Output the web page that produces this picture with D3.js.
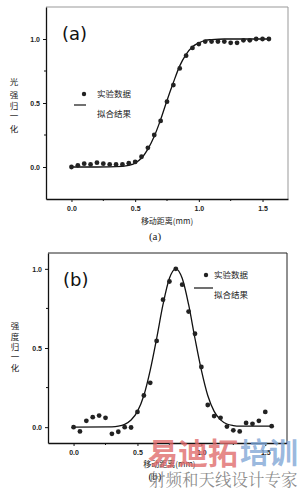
<!DOCTYPE html>
<html><head><meta charset="utf-8">
<script src="https://cdn.jsdelivr.net/npm/d3@7"></script>
<style>body{margin:0;background:#fff}svg{display:block}</style>
</head><body>
<script>
// Panel (a) data
const xA = [0,0.05,0.10,0.15,0.20,0.25,0.30,0.35,0.40,0.45,0.50,0.55,0.60,0.65,0.70,0.75,0.80,0.85,0.90,0.95,1.00,1.05,1.10,1.15,1.20,1.25,1.30,1.35,1.40,1.45,1.50,1.55];
const yA = [0.0,0.013,0.026,0.02,0.034,0.026,0.02,0.02,0.02,0.03,0.04,0.08,0.15,0.25,0.36,0.51,0.64,0.77,0.87,0.93,0.96,0.98,0.98,0.98,0.98,0.97,0.97,0.99,0.99,1.0,1.0,1.0];
const fitAx = [0,0.2,0.4,0.45,0.5,0.55,0.6,0.65,0.7,0.75,0.8,0.85,0.9,0.95,1.0,1.05,1.1,1.2,1.55];
const fitAy = [0.0,0.0,0.005,0.012,0.03,0.07,0.14,0.24,0.37,0.52,0.66,0.79,0.88,0.94,0.97,0.99,0.995,1.0,1.0];
// Panel (b) data
const xB = xA;
const yB = [0.0,-0.027,0.04,0.063,0.073,0.059,-0.042,-0.029,0.0,-0.002,0.096,0.20,0.28,0.545,0.805,0.92,1.0,0.90,0.73,0.59,0.38,0.14,0.07,0.059,0.004,-0.02,-0.027,0.027,0.021,0.04,0.096,0.006];
const fitBx = [0,0.3,0.35,0.4,0.45,0.5,0.55,0.6,0.65,0.7,0.75,0.8,0.85,0.9,0.95,1.0,1.05,1.1,1.15,1.2,1.25,1.3,1.55];
const fitBy = [0.0,0.002,0.006,0.018,0.045,0.10,0.20,0.36,0.56,0.775,0.94,1.0,0.94,0.775,0.56,0.36,0.20,0.10,0.046,0.02,0.01,0.006,0.006];
const xTicks = [0.0,0.5,1.0,1.5];
const yTicks = [0.0,0.5,1.0];
const xTitle = "移动距离(mm)";
const yTitleA = ["光","强","归","一","化"];
const yTitleB = ["强","度","归","一","化"];
const legendLabels = ["实验数据","拟合结果"];

const svg = d3.select("body").append("svg").attr("width",303).attr("height",490);
svg.append("rect").attr("width",303).attr("height",490).attr("fill","#fff");

const tickFont = "Liberation Sans, Arial, sans-serif";
const cjk = "Noto Sans CJK SC, sans-serif";

function panel(o){
  const g = svg.append("g");
  const x = d3.scaleLinear().domain(o.xd).range([o.l,o.r]);
  const y = d3.scaleLinear().domain(o.yd).range([o.b,o.t]);
  g.append("line").attr("x1",o.l).attr("x2",o.r).attr("y1",o.t).attr("y2",o.t).attr("stroke",o.frame).attr("stroke-width",1);
  g.append("line").attr("x1",o.r).attr("x2",o.r).attr("y1",o.t).attr("y2",o.b).attr("stroke",o.frame).attr("stroke-width",1);
  const ax = g.append("g").attr("transform",`translate(0,${o.b})`)
    .call(d3.axisBottom(x).tickValues(xTicks).tickFormat(d3.format(".1f")).tickSize(3).tickSizeOuter(0));
  const ay = g.append("g").attr("transform",`translate(${o.l},0)`)
    .call(d3.axisLeft(y).tickValues(yTicks).tickFormat(d3.format(".1f")).tickSize(3).tickSizeOuter(0));
  [ax,ay].forEach(a=>{
    a.select(".domain").attr("stroke","#111").attr("stroke-width",1.3);
    a.selectAll(".tick line").attr("stroke","#111");
    a.selectAll("text").attr("font-family",tickFont).attr("font-size",7).attr("fill","#222").attr("font-weight","bold");
  });
  ax.selectAll("text").attr("dy","0.9em");
  g.selectAll(".mx").data(o.minorX).enter().append("line")
    .attr("x1",d=>x(d)).attr("x2",d=>x(d)).attr("y1",o.b).attr("y2",o.b+2).attr("stroke","#111");
  g.selectAll(".my").data(o.minorY).enter().append("line")
    .attr("x1",o.l).attr("x2",o.l-2).attr("y1",d=>y(d)).attr("y2",d=>y(d)).attr("stroke","#111");
  const line = d3.line().x((d,i)=>x(o.fx[i])).y((d,i)=>y(o.fy[i])).curve(d3.curveMonotoneX);
  g.append("path").datum(o.fx).attr("d",line).attr("fill","none").attr("stroke","#111").attr("stroke-width",1.3);
  g.selectAll(".pt").data(o.px).enter().append("circle")
    .attr("cx",d=>x(d)).attr("cy",(d,i)=>y(o.py[i])).attr("r",2.4).attr("fill","#222");
  g.append("text").attr("x",o.lab[0]).attr("y",o.lab[1]).text(o.name)
    .attr("font-family","DejaVu Sans, sans-serif").attr("font-size",18).attr("fill","#111");
  g.append("circle").attr("cx",o.leg[0]).attr("cy",o.leg[1]).attr("r",2.2).attr("fill","#222");
  g.append("text").attr("x",o.leg[2]).attr("y",o.leg[1]+3).text(legendLabels[0])
    .attr("font-family",cjk).attr("font-size",8.5).attr("fill","#222");
  g.append("line").attr("x1",o.leg[3]).attr("x2",o.leg[4]).attr("y1",o.leg[5]).attr("y2",o.leg[5]).attr("stroke","#111").attr("stroke-width",1.2);
  g.append("text").attr("x",o.leg[2]).attr("y",o.leg[6]+3).text(legendLabels[1])
    .attr("font-family",cjk).attr("font-size",8.5).attr("fill","#222");
  g.selectAll(".yt").data(o.ytitle).enter().append("text")
    .attr("x",o.ytx).attr("y",(d,i)=>o.yty[i]).attr("text-anchor","middle").text(d=>d)
    .attr("font-family",cjk).attr("font-size",8.5).attr("fill","#222");
  g.append("text").attr("x",(x(0)+x(1.5))/2).attr("y",o.xt).attr("text-anchor","middle").text(xTitle)
    .attr("font-family",cjk).attr("font-size",8).attr("fill","#222");
  g.append("text").attr("x",155).attr("y",o.cap).attr("text-anchor","middle").text(o.name)
    .attr("font-family","Liberation Serif, serif").attr("font-size",11).attr("fill","#222");
}

panel({name:"(a)", xd:[-0.2,1.7], yd:[-0.25,1.25], l:46, r:288, t:7, b:199, frame:"#999",
  fx:fitAx, fy:fitAy, px:xA, py:yA,
  minorX:[0.25,0.75,1.25], minorY:[0.25,0.75],
  lab:[62,40], leg:[84,94,97,74,86,105,114],
  ytitle:yTitleA, ytx:14, yty:[85,98,109,119,132], xt:224, cap:240});

panel({name:"(b)", xd:[-0.2,1.67], yd:[-0.1,1.1], l:48, r:287, t:253, b:443, frame:"#222",
  fx:fitBx, fy:fitBy, px:xB, py:yB,
  minorX:[0.25,0.75,1.25], minorY:[0.25,0.75],
  lab:[63,286], leg:[206,275,214,194,213,288,295],
  ytitle:yTitleB, ytx:15, yty:[329,340,350,360,371], xt:467, cap:480});

// watermark
svg.append("text").attr("x",148).attr("y",464).text("易迪拓")
  .attr("font-family",cjk).attr("font-weight","bold").attr("font-size",30).attr("fill","#e06a6a").attr("fill-opacity",0.8);
svg.append("text").attr("x",240).attr("y",464).text("培训")
  .attr("font-family",cjk).attr("font-weight","bold").attr("font-size",29).attr("fill","#7fa6d6").attr("fill-opacity",0.8);
svg.append("text").attr("x",149).attr("y",486).text("射频和天线设计专家")
  .attr("font-family","Noto Serif CJK SC, "+cjk).attr("font-size",16.5).attr("fill","#808080").attr("fill-opacity",0.9);
</script>
</body></html>
